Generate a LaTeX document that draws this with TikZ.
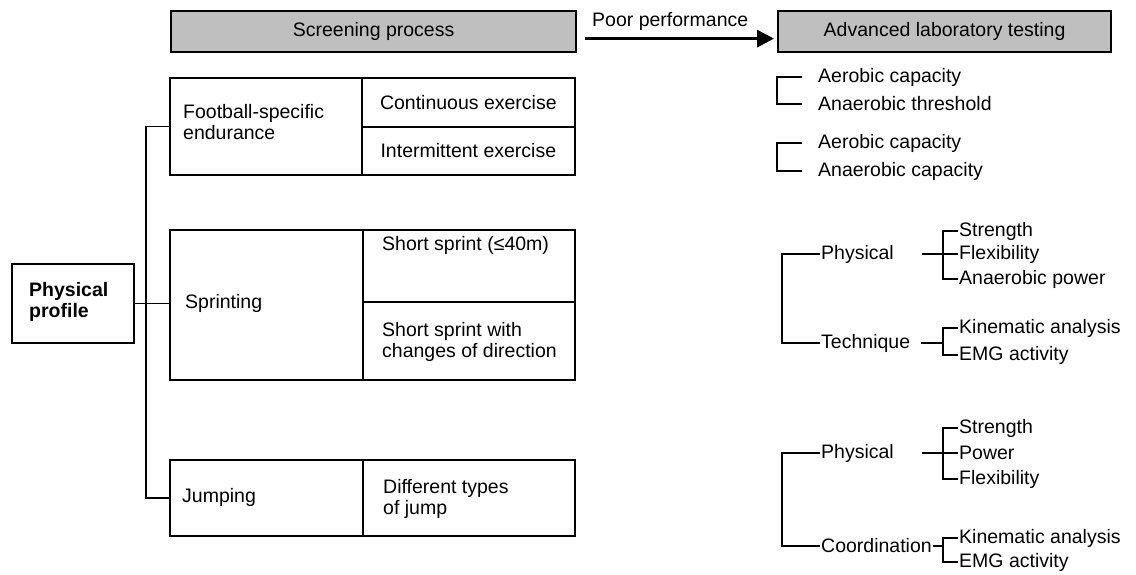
\documentclass[tikz,border=0pt]{standalone}
\usepackage{fontspec}
\setmainfont{Liberation Sans}
\usetikzlibrary{arrows.meta}
\begin{document}
\begin{tikzpicture}[x=1pt,y=-1pt,
  every node/.style={font=\fontsize{19.5}{21}\selectfont, inner sep=1pt},
  cell/.style={draw, line width=1.7pt, inner sep=0pt, anchor=north west},
  hdr/.style={draw, line width=2.2pt, fill=gray!50, inner sep=0pt, anchor=north west, minimum height=41pt},
  lbl/.style={anchor=west, align=left},
  conn/.style={line width=1.6pt},
  bigarrow/.style={line width=3.2pt, -{Triangle[length=17pt,width=17pt]}}]
\useasboundingbox (0,0) rectangle (1136,574);

% headers
\node[hdr, minimum width=405pt] (scr) at (170,10) {Screening process};
\node[hdr, minimum width=333pt] (adv) at (777,10) {Advanced laboratory testing};
\node[lbl] (poor) at (591,21) {Poor performance};
\draw[bigarrow] ([xshift=8pt,yshift=-7pt]scr.east) -- ([xshift=-3pt,yshift=-7pt]adv.west);

% physical profile
\node[cell, minimum width=122pt, minimum height=79pt] (pp) at (11,263) {};
\node[lbl, font=\fontsize{19.5}{21}\selectfont\bfseries] (ppT) at (28,302) {Physical\\profile};

% endurance
\node[cell, minimum width=192pt, minimum height=97pt] (endL) at (169,77) {};
\node[cell, minimum width=213pt, minimum height=49pt] (endR1) at (361,77) {Continuous exercise};
\node[cell, minimum width=213pt, minimum height=48pt] (endR2) at (361,126) {Intermittent exercise};
\node[lbl] (endT) at (182,122) {Football-specific\\endurance};

% sprinting
\node[cell, minimum width=193pt, minimum height=150pt] (sprL) at (169,229) {};
\node[cell, minimum width=212pt, minimum height=72pt] (sprR1) at (362,229) {};
\node[cell, minimum width=212pt, minimum height=78pt] (sprR2) at (362,301) {};
\node[lbl] (sprT) at (184,303) {Sprinting};
\node[lbl] (ss1) at (381,245) {Short sprint (≤40m)};
\node[lbl] (ss2) at (381,342) {Short sprint with\\changes of direction};

% jumping
\node[cell, minimum width=193pt, minimum height=76pt] (jmpL) at (169,459) {};
\node[cell, minimum width=212pt, minimum height=76pt] (jmpR) at (362,459) {};
\node[lbl] (jmpT) at (181,497) {Jumping};
\node[lbl] (djT) at (382,499) {Different types\\of jump};

% left connectors
\draw[conn] (pp.east) -- (pp.east -| sprL.west);
\draw[conn] (endL.west) -- ++(-23,0) |- (jmpL.west);

% right: endurance tests
\node[lbl] (ac1) at (817,77) {Aerobic capacity};
\node[lbl] (at1) at (817,104) {Anaerobic threshold};
\draw[conn] ([xshift=-15pt]ac1.west) -| ([xshift=-40pt]at1.west) -- ([xshift=-15pt]at1.west);
\node[lbl] (ac2) at (817,143) {Aerobic capacity};
\node[lbl] (anc2) at (817,171) {Anaerobic capacity};
\draw[conn] ([xshift=-15pt]ac2.west) -| ([xshift=-40pt]anc2.west) -- ([xshift=-15pt]anc2.west);

% right: sprint tree
\node[lbl] (ph1) at (820,254) {Physical};
\node[lbl] (te1) at (820,343) {Technique};
\draw[conn] (ph1.west) -- ++(-38,0) |- (te1.west);
\node[lbl] (st1) at (958,231) {Strength};
\node[lbl] (fl1) at (958,254) {Flexibility};
\node[lbl] (ap1) at (958,279) {Anaerobic power};
\draw[conn] ([xshift=27pt]ph1.east) -- (fl1.west);
\draw[conn] (st1.west) -- ++(-15,0) |- (ap1.west);
\node[lbl] (ka1) at (958,328) {Kinematic analysis};
\node[lbl] (em1) at (958,355) {EMG activity};
\draw[conn] ([xshift=10pt]te1.east) -- ([xshift=-15pt]te1.east -| ka1.west);
\draw[conn] (ka1.west) -- ++(-15,0) |- (em1.west);

% right: jump tree
\node[lbl] (ph2) at (820,453) {Physical};
\node[lbl] (co2) at (820,546) {Coordination};
\draw[conn] (ph2.west) -- ++(-38,0) |- (co2.west);
\node[lbl] (st2) at (958,428) {Strength};
\node[lbl] (pw2) at (958,453) {Power};
\node[lbl] (fl2) at (958,479) {Flexibility};
\draw[conn] ([xshift=27pt]ph2.east) -- (pw2.west);
\draw[conn] (st2.west) -- ++(-15,0) |- (fl2.west);
\node[lbl] (ka2) at (958,538) {Kinematic analysis};
\node[lbl] (em2) at (958,562) {EMG activity};
\draw[conn] (co2.east) -- ([xshift=-15pt]co2.east -| ka2.west);
\draw[conn] (ka2.west) -- ++(-15,0) |- (em2.west);
\end{tikzpicture}
\end{document}
